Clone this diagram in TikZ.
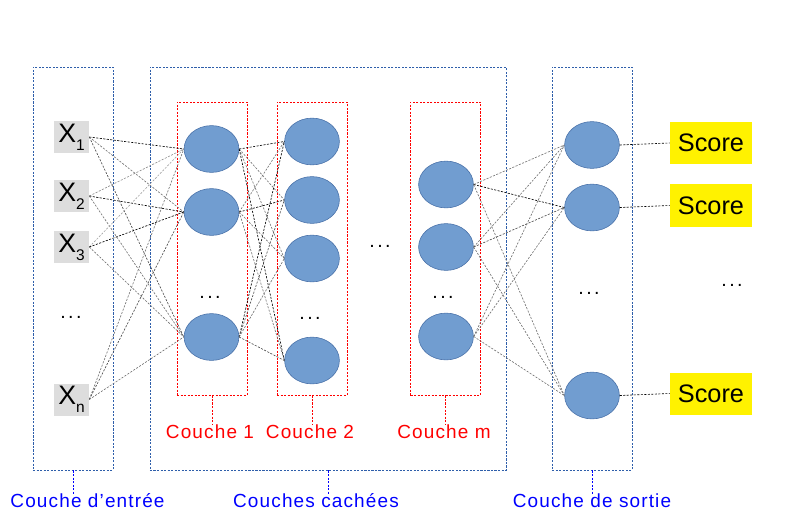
\documentclass[tikz,border=0pt]{standalone}
\usepackage{fontspec}
\setmainfont{Liberation Sans}
\newfontfamily\etiqfont[LetterSpace=6]{Liberation Sans}
\newfontfamily\pointsfont[LetterSpace=12]{Liberation Sans}
\usetikzlibrary{positioning, shapes, calc}

\definecolor{neurone}{RGB}{113,157,208}
\definecolor{bordneurone}{RGB}{72,112,168}
\definecolor{cadrebleu}{RGB}{46,94,170}
\definecolor{grisx}{RGB}{221,221,221}

\tikzset{
	neurone/.style={draw=bordneurone, ellipse, fill=neurone, minimum width=1.37cm, 
	minimum height=1.17cm, inner sep=0pt},
	lien/.style={dash pattern=on 1.5pt off 1pt, line width=0.45pt},
	cadre/.style={draw=cadrebleu, rectangle, dash pattern=on 1.5pt off 1pt, line width=0.6pt, 
	minimum width=2cm, minimum height=10.075cm},
	couche/.style={draw=red, rectangle, dash pattern=on 1.5pt off 1pt, line width=0.6pt, 
	minimum width=1.75cm, minimum height=7.325cm},
	entree/.style={rectangle, fill=grisx, minimum width=0.875cm, minimum height=0.8cm, 
	inner sep=0pt, font=\fontsize{19}{19}\selectfont},
	score/.style={rectangle, fill=yellow, minimum width=2.05cm, minimum height=1.05cm, 
	inner sep=0pt, font=\fontsize{18}{18}\selectfont},
	etiqbleu/.style={text=blue, inner sep=0pt, font=\etiqfont\fontsize{13.5}{16}\selectfont},
	etiqrouge/.style={text=red, inner sep=0pt, font=\etiqfont\fontsize{13.5}{16}\selectfont},
	points/.style={font=\pointsfont\fontsize{14}{14}\selectfont}
}
\newcommand{\xsub}[1]{X\raisebox{-0.55ex}{\fontsize{11}{11}\selectfont #1}}

\begin{document}
\begin{tikzpicture}[x=0.025cm, y=-0.025cm]
		\useasboundingbox (0,0) rectangle (794,520);
		
		%Big layer frames
		\node (Entree) at (73,268.5) [cadre]{};
		\node (Cachees) at (328,268.5) [cadre, minimum width=8.9cm]{};
		\node (Sortie) at (592,268.5) [cadre]{};
		
		%Hidden layer frames
		\node (Couche 1) at (212,248.5) [couche]{};
		\node (Couche 2) at (312,248.5) [couche]{};
		\node (Couche m) at (445.5,248.5) [couche]{};
		
		%Inputs
		\node (X1) at (71.5,137) [entree]{\xsub{1}};
		\node (X2) at (71.5,196) [entree]{\xsub{2}};
		\node (X3) at (71.5,247) [entree]{\xsub{3}};
		\node (Xn) at (71.5,399.5) [entree]{\xsub{n}};
		\node (DotsX) at (71,317) [points]{...};
		
		%Neurons of the first hidden layer
		\node (A1) at (211.5,149) [neurone]{};
		\node (A2) at (211.5,212) [neurone]{};
		\node (A3) at (211.5,337) [neurone]{};
		\node (DotsA) at (210,297) [points]{...};
		
		%Neurons of the second hidden layer
		\node (B1) at (312,141.5) [neurone]{};
		\node (B2) at (312,200) [neurone]{};
		\node (B3) at (312,258.5) [neurone]{};
		\node (B4) at (312,360.5) [neurone]{};
		\node (DotsB) at (310,318) [points]{...};
		
		\node (DotsC) at (380,246) [points]{...};
		
		%Neurons of the last hidden layer
		\node (M1) at (446,184.5) [neurone]{};
		\node (M2) at (446,247) [neurone]{};
		\node (M3) at (446,336.5) [neurone]{};
		\node (DotsM) at (443,297) [points]{...};
		
		%Output neurons and scores
		\node (S1) at (592,145) [neurone]{};
		\node (S2) at (592,207.5) [neurone]{};
		\node (S3) at (592,395.5) [neurone]{};
		\node (DotsS) at (589,293) [points]{...};
		\node (Score1) at (711,143) [score]{Score};
		\node (Score2) at (711,205.5) [score]{Score};
		\node (Score3) at (711,393.5) [score]{Score};
		\node (DotsScore) at (732,285) [points]{...};
		
		%Writings under the frames
		\node (Nom1) at (210,432) [etiqrouge]{Couche 1};
		\node (Nom2) at (310,432) [etiqrouge]{Couche 2};
		\node (Nomm) at (444,432) [etiqrouge]{Couche m};
		\node (NomEntree) at (87.5,501) [etiqbleu]{Couche d’entrée};
		\node (NomCachees) at (316,501) [etiqbleu]{Couches cachées};
		\node (NomSortie) at (592,501) [etiqbleu]{Couche de sortie};
		
		\draw[red, dash pattern=on 1.5pt off 1pt] (Couche 1.south) -- (Couche 1.south |- Nom1.north);
		\draw[red, dash pattern=on 1.5pt off 1pt] (Couche 2.south) -- (Couche 2.south |- Nom2.north);
		\draw[red, dash pattern=on 1.5pt off 1pt] (Couche m.south) -- (Couche m.south |- Nomm.north);
		\draw[blue, dash pattern=on 1.5pt off 1pt] (Entree.south) -- (Entree.south |- NomEntree.north);
		\draw[blue, dash pattern=on 1.5pt off 1pt] (Cachees.south) -- (Cachees.south |- NomCachees.north);
		\draw[blue, dash pattern=on 1.5pt off 1pt] (Sortie.south) -- (Sortie.south |- NomSortie.north);
		
		%Links among neurons
		\foreach \a/\b/\c in {X1/A1/black, X1/A2/black!55, X1/A3/black!70, X2/A1/black!45, 
			X2/A2/black, X2/A3/black!55, X3/A1/black!35, X3/A2/black, X3/A3/black!55, 
			Xn/A1/black!55, Xn/A2/black!70, Xn/A3/black!55}
		\draw[lien, \c] (\a.east) -- (\b.west);
		\foreach \a/\b/\c in {A1/B1/black, A1/B2/black!55, A1/B3/black!55, A1/B4/black, 
			A2/B1/black!55, A2/B2/black, A2/B3/black!55, A2/B4/black!55, 
			A3/B1/black, A3/B2/black!70, A3/B3/black!55, A3/B4/black!70}
		\draw[lien, \c] (\a.east) -- (\b.west);
		\foreach \a/\b/\c in {M1/S1/black!55, M1/S2/black, M1/S3/black!55, 
			M2/S1/black!55, M2/S2/black!70, M2/S3/black!55, 
			M3/S1/black!55, M3/S2/black!55, M3/S3/black!55}
		\draw[lien, \c] (\a.east) -- (\b.west);
		\draw[lien] (S1.east) -- (Score1.west);
		\draw[lien] (S2.east) -- (Score2.west);
		\draw[lien] (S3.east) -- (Score3.west);
		
\end{tikzpicture}
\end{document}
